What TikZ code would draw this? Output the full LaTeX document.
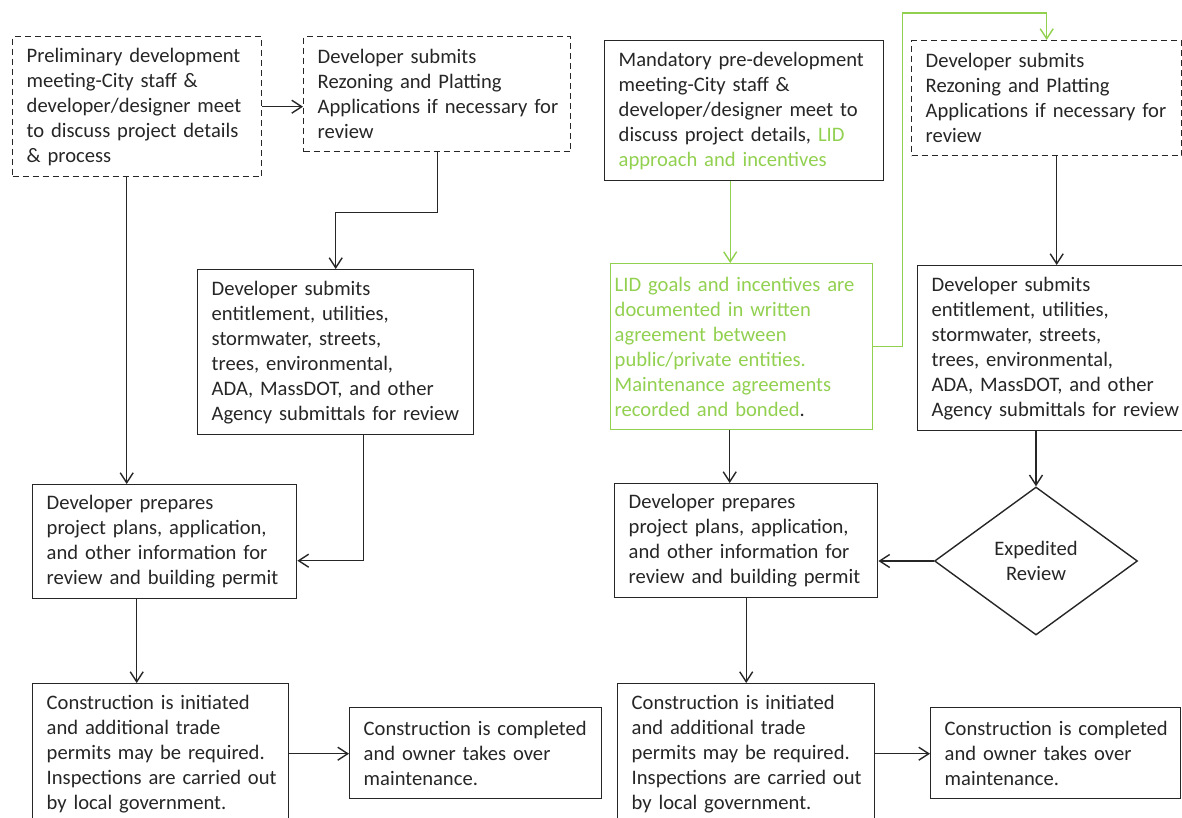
\documentclass[tikz,border=0pt]{standalone}
\usepackage{fontspec}
\setmainfont{Carlito}[WordSpace=0.8]
\usepackage{tikz}
\usetikzlibrary{shapes.geometric, arrows.meta, calc}
\usepackage{xcolor}
\definecolor{ink}{RGB}{38,38,38}
\definecolor{lid}{RGB}{146,208,80}
\hyphenpenalty=10000
\exhyphenpenalty=10000

\begin{document}
\begin{tikzpicture}[
          x=0.5pt, y=-0.5pt,
          box/.style={rectangle, draw=ink, line width=0.7pt, anchor=north west,
                      inner xsep=7pt, inner ysep=2pt, align=left, text=ink,
                      font=\fontsize{10.3}{12.5}\selectfont,
                      execute at begin node={\rightskip=0pt plus 1fil minus 40pt\linepenalty=9000\relax}},
          optional/.style={box, dash pattern=on 3pt off 2pt},
          lidbox/.style={box, draw=lid, text=lid, inner xsep=2pt},
          decide/.style={diamond, draw=ink, line width=0.7pt, inner sep=0pt,
                         minimum width=101.5pt, minimum height=74pt, align=center,
                         text=ink, font=\fontsize{10.3}{12.5}\selectfont},
          arr/.style={-{Straight Barb[length=5pt,width=6.5pt]}, line width=0.7pt, draw=ink},
          garr/.style={arr, draw=lid}
        ]
        \clip (0,0) rectangle (1182,818);
        % left: current process
        \node[optional, text width=110.5pt, minimum height=70pt] (a) at (12,36)
          {Preliminary development\\meeting-City staff \&\\developer/designer meet\\to discuss project details\\\& process};
        \node[optional, text width=119.5pt, minimum height=57.5pt] (b) at (303,36)
          {Developer submits\\Rezoning and Platting\\Applications if necessary for\\review};
        \node[box, text width=124pt, minimum height=82.5pt] (c) at (197,269)
          {Developer submits\\entitlement, utilities,\\stormwater, streets,\\trees, environmental,\\ADA, MassDOT, and other\\Agency submittals for review};
        \node[box, text width=118pt, minimum height=57pt] (d) at (32,484)
          {Developer prepares\\project plans, application,\\and other information for\\review and building permit};
        \node[box, text width=114pt, minimum height=70pt] (e) at (32,683)
          {Construction is initiated\\and additional trade\\permits may be required.\\Inspections are carried out\\by local government.};
        \node[box, text width=112pt, minimum height=45.5pt] (f) at (349,707)
          {Construction is completed\\and owner takes over\\maintenance.};
        \draw[arr] (a.east) -- (a.east -| b.west);
        \draw[arr] (b.south) -- ++(0,60) -| (c.north);
        \draw[arr] ([xshift=-5.25pt]a.south) -- ([xshift=-5.25pt]a.south |- d.north);
        \draw[arr] ([xshift=14pt]c.south) |- ([yshift=-9.5pt]d.east);
        \draw[arr] ([xshift=-14pt]d.south) -- ([xshift=-14pt]d.south |- e.north);
        \draw[arr] (e.east) -- (e.east -| f.west);
        % right: LID process
        \node[box, text width=125.5pt, minimum height=70pt] (g) at (604,40)
          {Mandatory pre-development\\meeting-City staff \&\\developer/designer meet to\\discuss project details, \textcolor{lid}{LID}\\\textcolor{lid}{approach and incentives}};
        \node[optional, text width=121pt, minimum height=57.5pt] (h) at (911,40)
          {Developer submits\\Rezoning and Platting\\Applications if necessary for\\review};
        \node[lidbox, text width=127pt, minimum height=83pt] (i) at (610,263)
          {LID goals and incentives are\\documented in written\\agreement between\\public/private entities.\\Maintenance agreements\\recorded and bonded\textcolor{ink}{.}};
        \node[box, text width=120pt, minimum height=82.5pt] (j) at (917,265)
          {Developer submits\\entitlement, utilities,\\stormwater, streets,\\trees, environmental,\\ADA, MassDOT, and other\\Agency submittals for review};
        \node[decide] (k) at (1036,561) {Expedited\\Review};
        \node[box, text width=117.5pt, minimum height=57pt] (l) at (614,483)
          {Developer prepares\\project plans, application,\\and other information for\\review and building permit};
        \node[box, text width=114.5pt, minimum height=70pt] (m) at (617,683)
          {Construction is initiated\\and additional trade\\permits may be required.\\Inspections are carried out\\by local government.};
        \node[box, text width=111pt, minimum height=45.5pt] (n) at (930,707)
          {Construction is completed\\and owner takes over\\maintenance.};
        \draw[garr] ([xshift=-7pt]g.south) -- ([xshift=-7pt]g.south |- i.north);
        \draw[garr] (i.east) -- ++(29,0) |- ([yshift=13.5pt]h.north) -- (h.north);
        \draw[arr] ([xshift=5pt]h.south) -- ([xshift=5pt]h.south |- j.north);
        \draw[arr] ([xshift=-6pt]i.south) -- ([xshift=-6pt]i.south |- l.north);
        \draw[arr] (j.south -| k.north) -- (k.north);
        \draw[arr] (k.west) -- (k.west -| l.east);
        \draw[arr] (l.south) -- (l.south |- m.north);
        \draw[arr] (m.east) -- (m.east -| n.west);
      \end{tikzpicture}
\end{document}
